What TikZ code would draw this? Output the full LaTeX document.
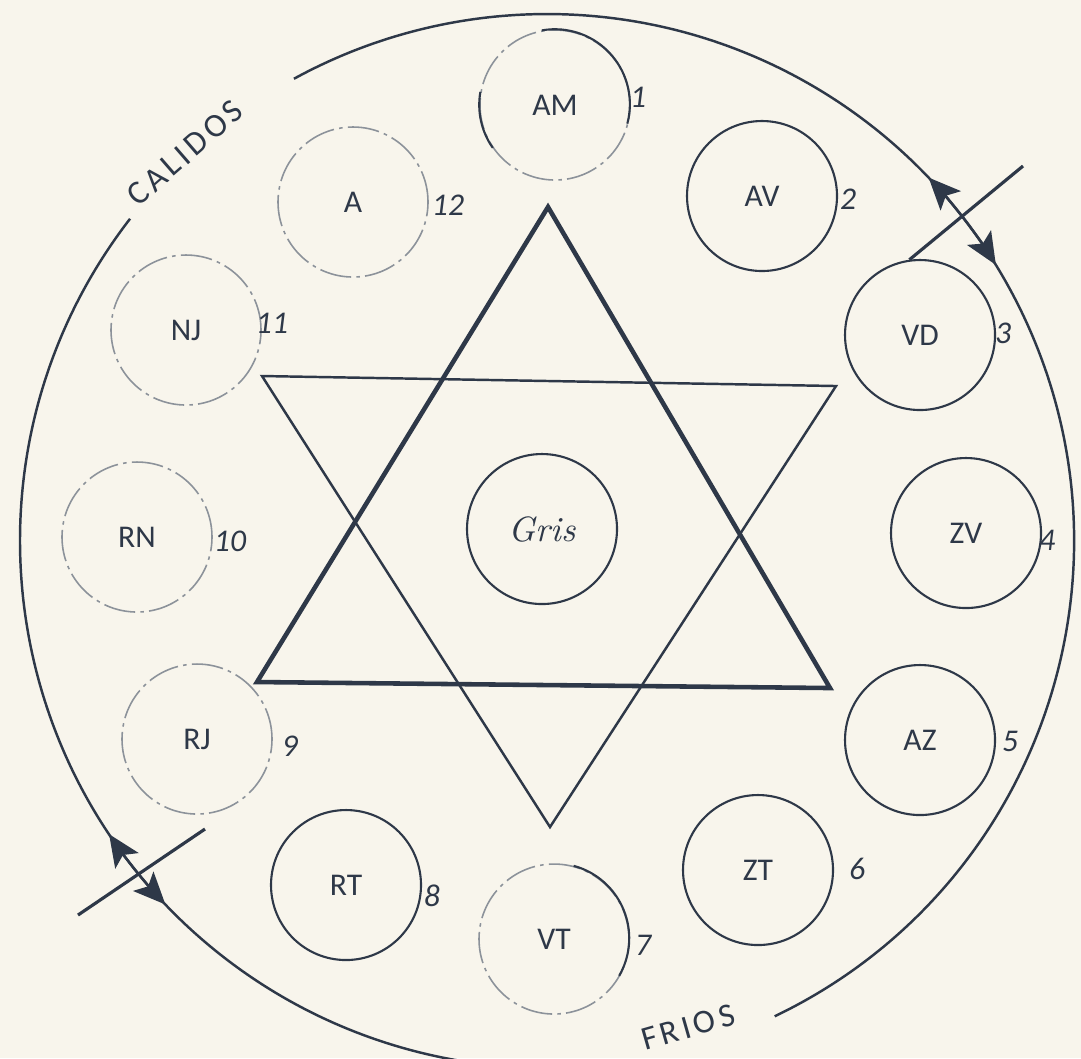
\documentclass[tikz,border=0pt]{standalone}
\usepackage{fontspec}
\newfontfamily\letterfont{Carlito}
\newfontfamily\spacedfont[LetterSpace=12]{Carlito}
\usetikzlibrary{arrows.meta,positioning}
\definecolor{ink}{HTML}{2E3848}
\definecolor{paper}{HTML}{F8F5EC}

\begin{document}
\begin{tikzpicture}[
    ink,
    font=\letterfont\fontsize{9}{11}\selectfont,
    ring/.style={circle, draw=ink, line width=0.6pt, minimum size=1.5cm, inner sep=0pt},
    faintring/.style={ring, draw=ink!55, line width=0.45pt, dash pattern=on 9pt off 1.5pt on 1pt off 1.5pt},
    darkarc/.style={draw=ink, line width=0.6pt},
    num/.style={font=\letterfont\itshape\fontsize{9}{11}\selectfont, inner sep=1pt},
    side/.style={font=\spacedfont\fontsize{9.5}{11}\selectfont},
    rim/.style={line width=0.7pt},
    cross/.style={line width=0.9pt},
    tip/.style={rim, -{Stealth[length=3.2mm, width=2.8mm, inset=0.7mm]}},
    bigtri/.style={line width=1.3pt, line join=miter},
    smalltri/.style={line width=0.7pt, line join=miter}
  ]
  \fill[paper] (0,0) rectangle (10.81,-10.58);
  \clip (0,0) rectangle (10.81,-10.58);

  % outer rim
  \coordinate (c) at (5.47,-5.41);
  \draw[rim] (c) ++(-64.4:5.27) arc[start angle=-64.4, end angle=118.7, radius=5.27];
  \draw[rim] (c) ++(142.3:5.27) arc[start angle=142.3, end angle=278, radius=5.27];
  \draw[tip] (c) ++(37.5:5.27) arc[start angle=37.5, end angle=43.6, radius=5.27];
  \draw[tip] (c) ++(37.5:5.27) arc[start angle=37.5, end angle=31.6, radius=5.27];
  \draw[tip] (c) ++(219.2:5.27) arc[start angle=219.2, end angle=213.8, radius=5.27];
  \draw[tip] (c) ++(219.2:5.27) arc[start angle=219.2, end angle=223.6, radius=5.27];

  \node[side, rotate=41] (calidos) at (1.85,-1.53) {CALIDOS};
  \node[side, rotate=16] (frios) at (6.88,-10.27) {FRIOS};

  % star
  \draw[bigtri] (5.48,-2.07) -- (2.57,-6.82) -- (8.30,-6.88) -- cycle;
  \draw[smalltri] (2.62,-3.76) -- (8.36,-3.86) -- (5.50,-8.27) -- cycle;

  % colour circles
  \node[faintring] (am) at (5.55,-1.05) {AM};
  \node[ring] (av) at (7.62,-1.96) {AV};
  \node[ring] (vd) at (9.20,-3.35) {VD};
  \node[ring] (zv) at (9.66,-5.33) {ZV};
  \node[ring] (az) at (9.20,-7.40) {AZ};
  \node[ring] (zt) at (7.58,-8.70) {ZT};
  \node[faintring] (vt) at (5.54,-9.39) {VT};
  \node[ring] (rt) at (3.46,-8.85) {RT};
  \node[faintring] (rj) at (1.97,-7.39) {RJ};
  \node[faintring] (rn) at (1.37,-5.37) {RN};
  \node[faintring] (nj) at (1.86,-3.30) {NJ};
  \node[faintring] (a) at (3.53,-2.02) {A};
  \node[ring, font=\itshape\fontsize{10}{12}\selectfont] (gris) at (5.42,-5.29) {Gris};

  \draw[darkarc] (am.100) arc[start angle=100, end angle=-15, radius=0.75];
  \draw[darkarc] (am.170) arc[start angle=170, end angle=215, radius=0.75];
  \draw[darkarc] (vt.75) arc[start angle=75, end angle=-30, radius=0.75];

  \node[num] (n1) at (6.38,-0.97) {1};
  \node[num] (n2) at (8.48,-1.99) {2};
  \node[num] (n3) at (10.03,-3.33) {3};
  \node[num] (n4) at (10.47,-5.40) {4};
  \node[num] (n5) at (10.10,-7.41) {5};
  \node[num] (n6) at (8.57,-8.69) {6};
  \node[num] (n7) at (6.43,-9.45) {7};
  \node[num] (n8) at (4.32,-8.96) {8};
  \node[num] (n9) at (2.90,-7.46) {9};
  \node[num] (n10) at (2.30,-5.41) {10};
  \node[num] (n11) at (2.72,-3.23) {11};
  \node[num] (n12) at (4.48,-2.05) {12};

  % warm / cold dividers
  \coordinate (tr) at (10.23,-1.66);
  \coordinate (bl1) at (0.78,-9.15);
  \coordinate (bl2) at (2.05,-8.29);
  \draw[cross] (vd.98) -- (tr);
  \draw[cross] (bl1) -- (bl2);
\end{tikzpicture}
\end{document}
